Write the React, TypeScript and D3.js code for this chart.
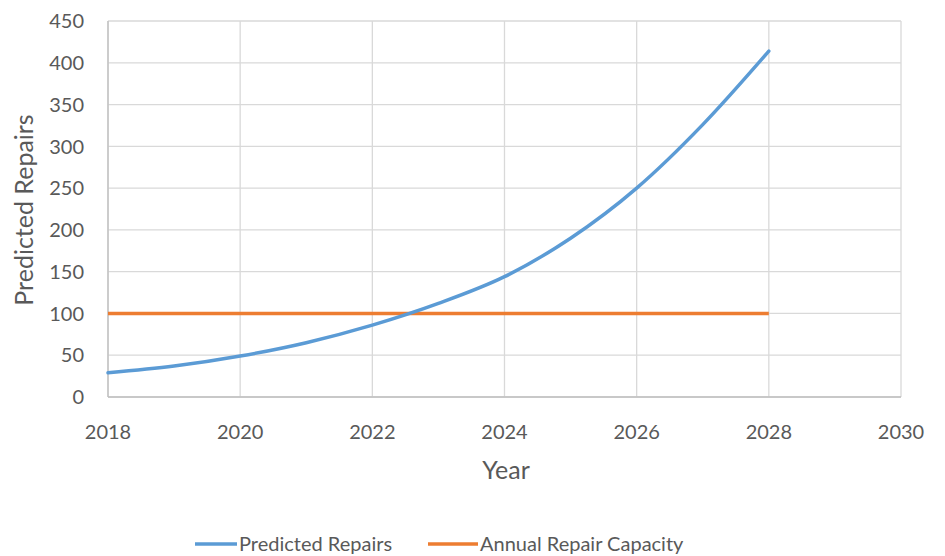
import React from "react";
import * as d3 from "d3";

const years = [2018, 2019, 2020, 2021, 2022, 2023, 2024, 2025, 2026, 2027, 2028];
const predictedRepairs = [29, 37, 49, 65, 86, 112, 144, 190, 250, 326, 414];
const capacityYears = [2018, 2028];
const capacityValues = [100, 100];
const xTicks = [2018, 2020, 2022, 2024, 2026, 2028, 2030];
const yTicks = [0, 50, 100, 150, 200, 250, 300, 350, 400, 450];
const seriesNames = ["Predicted Repairs", "Annual Repair Capacity"];
const seriesColors = ["#5B9BD5", "#ED7D31"];

const W = 945, H = 556;
const M = { left: 108, right: 901, top: 21, bottom: 397 };
const font = "Lato, 'Open Sans', sans-serif";
const textColor = "#595959";

export default function App() {
  const x = d3.scaleLinear().domain([2018, 2030]).range([M.left, M.right]);
  const y = d3.scaleLinear().domain([0, 450]).range([M.bottom, M.top]);
  const line = d3.line<[number, number]>().x(d => x(d[0])).y(d => y(d[1])).curve(d3.curveMonotoneX);
  const pred = line(years.map((yr, i) => [yr, predictedRepairs[i]] as [number, number]))!;
  const cap = line(capacityYears.map((yr, i) => [yr, capacityValues[i]] as [number, number]))!;

  const legend = [
    { x1: 195, x2: 237, tx: 239 },
    { x1: 428, x2: 478, tx: 480 },
  ];
  return (
    <svg width={W} height={H} style={{ position: "absolute", left: 0, top: 0, background: "#fff" }} fontFamily={font}>
      <rect x={0} y={0} width={W} height={H} fill="#fff" />
      {yTicks.map(t => (
        <line key={"gy" + t} x1={M.left} x2={M.right} y1={y(t)} y2={y(t)} stroke="#d9d9d9" strokeWidth={1.3} />
      ))}
      {xTicks.map(t => (
        <line key={"gx" + t} x1={x(t)} x2={x(t)} y1={M.top} y2={M.bottom} stroke="#d9d9d9" strokeWidth={1.3} />
      ))}
      <line x1={M.left} x2={M.right} y1={M.bottom} y2={M.bottom} stroke="#bfbfbf" strokeWidth={1.3} />
      <line x1={M.left} x2={M.left} y1={M.top} y2={M.bottom} stroke="#bfbfbf" strokeWidth={1.3} />
      {yTicks.map(t => (
        <text key={"ty" + t} x={84} y={y(t)} dy="0.36em" textAnchor="end" fontSize={20} fill={textColor}>{t}</text>
      ))}
      {xTicks.map(t => (
        <text key={"tx" + t} x={x(t)} y={432} dy="0.36em" textAnchor="middle" fontSize={20} fill={textColor}>{t}</text>
      ))}
      <path d={cap} fill="none" stroke={seriesColors[1]} strokeWidth={3.5} />
      <path d={pred} fill="none" stroke={seriesColors[0]} strokeWidth={3.5} strokeLinecap="round" />
      <text x={506} y={470} dy="0.36em" textAnchor="middle" fontSize={25} fill={textColor}>Year</text>
      <text transform={`translate(24,210) rotate(-90)`} textAnchor="middle" dy="0.36em" fontSize={25} fill={textColor}>Predicted Repairs</text>
      {legend.map((l, i) => (
        <g key={i}>
          <line x1={l.x1} x2={l.x2} y1={544} y2={544} stroke={seriesColors[i]} strokeWidth={3.5} />
          <text x={l.tx} y={544} dy="0.36em" fontSize={20} fill={textColor}>{seriesNames[i]}</text>
        </g>
      ))}
    </svg>
  );
}
